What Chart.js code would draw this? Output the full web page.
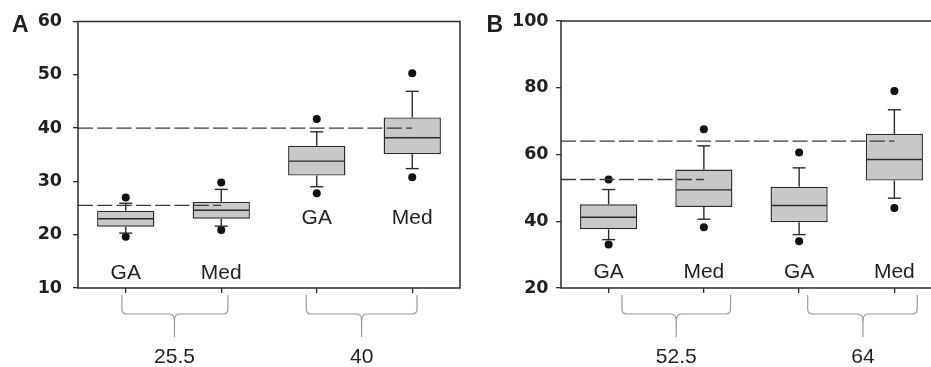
<!DOCTYPE html>
<html>
<head>
<meta charset="utf-8">
<script src="https://cdn.jsdelivr.net/npm/chart.js@4.4.1/dist/chart.umd.min.js"></script>
<style>
  html, body { margin: 0; padding: 0; background: #fff; overflow: hidden; }
  #wrap { position: relative; width: 931px; height: 367px; overflow: hidden; }
  #wrap canvas { position: absolute; top: 0; }
</style>
</head>
<body>
<div id="wrap">
  <canvas id="chartA" width="470" height="367" style="left:0"></canvas>
  <canvas id="chartB" width="480" height="367" style="left:470px"></canvas>
</div>
<script>
// ---------------- data ----------------
var categories = ['GA', 'Med', 'GA', 'Med'];

// panel A
var ticksA = [10, 20, 30, 40, 50, 60];
var lowA = [20.3, 21.6, 29.0, 32.4];
var q1A = [21.5, 23.0, 31.1, 35.1];
var medA = [23.0, 24.6, 33.8, 38.2];
var q3A = [24.5, 26.2, 36.7, 42.0];
var highA = [25.9, 28.5, 39.3, 46.9];
var outLowA = [19.6, 20.9, 27.8, 30.8];
var outHighA = [27.0, 29.8, 41.7, 50.3];
var groupsA = [25.5, 40];

// panel B
var ticksB = [20, 40, 60, 80, 100];
var lowB = [34.5, 40.6, 36.0, 46.9];
var q1B = [37.6, 44.3, 39.7, 52.2];
var medB = [41.2, 49.4, 44.7, 58.5];
var q3B = [45.1, 55.5, 50.3, 66.2];
var highB = [49.5, 62.6, 56.0, 73.4];
var outLowB = [33.0, 38.2, 34.0, 44.0];
var outHighB = [52.5, 67.6, 60.6, 79.0];
var groupsB = [52.5, 64];

var INK = '#2b2b2b';
var TEXT = '#231f20';

function hline(ctx, x1, x2, y) {
    ctx.beginPath(); ctx.moveTo(x1, y); ctx.lineTo(x2, y); ctx.stroke();
}
function vline(ctx, x, y1, y2) {
    ctx.beginPath(); ctx.moveTo(x, y1); ctx.lineTo(x, y2); ctx.stroke();
}

// whiskers, medians, reference lines, labels, braces
var boxExtras = {
    id: 'boxExtras',
    afterDatasetsDraw: function (chart) {
        var o = chart.options.plugins.boxExtras;
        var ctx = chart.ctx, xs = chart.scales.x, ys = chart.scales.y;
        var bars = chart.getDatasetMeta(0).data;
        ctx.save();
        ctx.strokeStyle = INK;
        ctx.lineWidth = 1.4;
        for (var i = 0; i < categories.length; i++) {
            var cx = xs.getPixelForValue(i);
            var half = bars[i].width / 2;
            hline(ctx, cx - half + 1, cx + half - 1, ys.getPixelForValue(o.med[i]));
            vline(ctx, cx, ys.getPixelForValue(o.q3[i]), ys.getPixelForValue(o.high[i]));
            hline(ctx, cx - 6.5, cx + 6.5, ys.getPixelForValue(o.high[i]));
            vline(ctx, cx, ys.getPixelForValue(o.q1[i]), ys.getPixelForValue(o.low[i]));
            hline(ctx, cx - 6.5, cx + 6.5, ys.getPixelForValue(o.low[i]));
        }
        // dashed reference lines to the Med box of each group
        ctx.strokeStyle = '#3a3a3a';
        ctx.setLineDash([15, 4.3]);
        for (var g = 0; g < o.groups.length; g++) {
            hline(ctx, chart.chartArea.left, xs.getPixelForValue(g * 2 + 1), ys.getPixelForValue(o.groups[g]));
        }
        ctx.setLineDash([]);
        // category names inside the plot
        ctx.fillStyle = TEXT;
        ctx.font = '21px "Liberation Sans", Arial, sans-serif';
        ctx.textAlign = 'center';
        ctx.textBaseline = 'alphabetic';
        for (var k = 0; k < categories.length; k++) {
            ctx.fillText(categories[k], xs.getPixelForValue(k), ys.getPixelForValue(o.labelY[k]));
        }
        ctx.restore();
    },
    afterDraw: function (chart) {
        var o = chart.options.plugins.boxExtras;
        var ctx = chart.ctx, xs = chart.scales.x, a = chart.chartArea;
        ctx.save();
        // frame
        ctx.strokeStyle = INK;
        ctx.lineWidth = 1.5;
        ctx.strokeRect(a.left, a.top, a.right - a.left, a.bottom - a.top);
        // braces under the axis
        ctx.strokeStyle = '#9a9a9a';
        ctx.lineWidth = 1.2;
        var yTop = a.bottom + 7, yMid = a.bottom + 26, yEnd = a.bottom + 49, r = 5;
        for (var g = 0; g < o.braces.length; g++) {
            var b = o.braces[g];
            var x0 = xs.getPixelForValue(b[0]), x1 = xs.getPixelForValue(b[1]), xc = xs.getPixelForValue(b[2]);
            ctx.beginPath();
            ctx.moveTo(x0, yTop);
            ctx.lineTo(x0, yMid - r);
            ctx.quadraticCurveTo(x0, yMid, x0 + r, yMid);
            ctx.lineTo(xc - r, yMid);
            ctx.quadraticCurveTo(xc, yMid, xc, yMid + r + 2);
            ctx.quadraticCurveTo(xc, yMid, xc + r, yMid);
            ctx.lineTo(x1 - r, yMid);
            ctx.quadraticCurveTo(x1, yMid, x1, yMid - r);
            ctx.lineTo(x1, yTop);
            ctx.stroke();
            vline(ctx, xc, yMid + r, yEnd);
            ctx.fillStyle = TEXT;
            ctx.font = '21px "Liberation Sans", Arial, sans-serif';
            ctx.textAlign = 'center';
            ctx.textBaseline = 'alphabetic';
            ctx.fillText(String(o.groups[g]), xc, 363);
        }
        // panel letter
        ctx.fillStyle = TEXT;
        ctx.font = 'bold 23px "Liberation Sans", Arial, sans-serif';
        ctx.textAlign = 'left';
        ctx.fillText(o.letter, o.letterX, 32);
        ctx.restore();
    }
};

function makePanel(id, p) {
    return new Chart(document.getElementById(id), {
        type: 'bar',
        data: {
            labels: categories,
            datasets: [{
                data: p.q1.map(function (v, i) { return [v, p.q3[i]]; }),
                backgroundColor: '#c8c8c8',
                borderColor: INK,
                borderWidth: 1.4,
                borderSkipped: false,
                barPercentage: 0.6,
                categoryPercentage: 1
            }, {
                type: 'line',
                data: p.outHigh,
                showLine: false,
                pointRadius: 4,
                pointBackgroundColor: '#111',
                pointBorderWidth: 0
            }, {
                type: 'line',
                data: p.outLow,
                showLine: false,
                pointRadius: 4,
                pointBackgroundColor: '#111',
                pointBorderWidth: 0
            }]
        },
        options: {
            responsive: false,
            animation: false,
            events: [],
            layout: { padding: { top: 21, right: p.padRight, left: 0, bottom: 0 } },
            plugins: {
                legend: { display: false },
                tooltip: { enabled: false },
                boxExtras: {
                    low: p.low, q1: p.q1, med: p.med, q3: p.q3, high: p.high,
                    groups: p.groups, labelY: p.labelY, braces: p.braces,
                    letter: p.letter, letterX: p.letterX
                }
            },
            scales: {
                x: {
                    border: { display: false },
                    grid: { offset: false, drawOnChartArea: false, tickLength: 5, color: INK, lineWidth: 1.3 },
                    ticks: { display: false },
                    afterFit: function (s) { s.height = 79; }
                },
                y: {
                    min: p.ticks[0],
                    max: p.ticks[p.ticks.length - 1],
                    afterBuildTicks: function (s) {
                        s.ticks = p.ticks.map(function (v) { return { value: v }; });
                    },
                    border: { display: false },
                    grid: { drawOnChartArea: false, tickLength: 5, color: INK, lineWidth: 1.3 },
                    ticks: {
                        padding: p.tickPad,
                        color: TEXT,
                        font: { family: 'DejaVu Sans', weight: 'bold', size: 17.5 }
                    },
                    afterFit: function (s) { s.width = p.yWidth; }
                }
            }
        },
        plugins: [boxExtras]
    });
}

makePanel('chartA', {
    ticks: ticksA, low: lowA, q1: q1A, med: medA, q3: q3A, high: highA,
    outLow: outLowA, outHigh: outHighA, groups: groupsA,
    labelY: [11.6, 11.6, 22.0, 22.0],
    braces: [[-0.04, 1.07, 0.51], [1.89, 3.05, 2.47]],
    letter: 'A', letterX: 12, yWidth: 78, padRight: 10, tickPad: 11
});

makePanel('chartB', {
    ticks: ticksB, low: lowB, q1: q1B, med: medB, q3: q3B, high: highB,
    outLow: outLowB, outHigh: outHighB, groups: groupsB,
    labelY: [23.1, 23.1, 23.1, 23.1],
    braces: [[0.14, 1.28, 0.71], [2.09, 3.24, 2.67]],
    letter: 'B', letterX: 16.5, yWidth: 91, padRight: 8, tickPad: 7.5
});
</script>
</body>
</html>
